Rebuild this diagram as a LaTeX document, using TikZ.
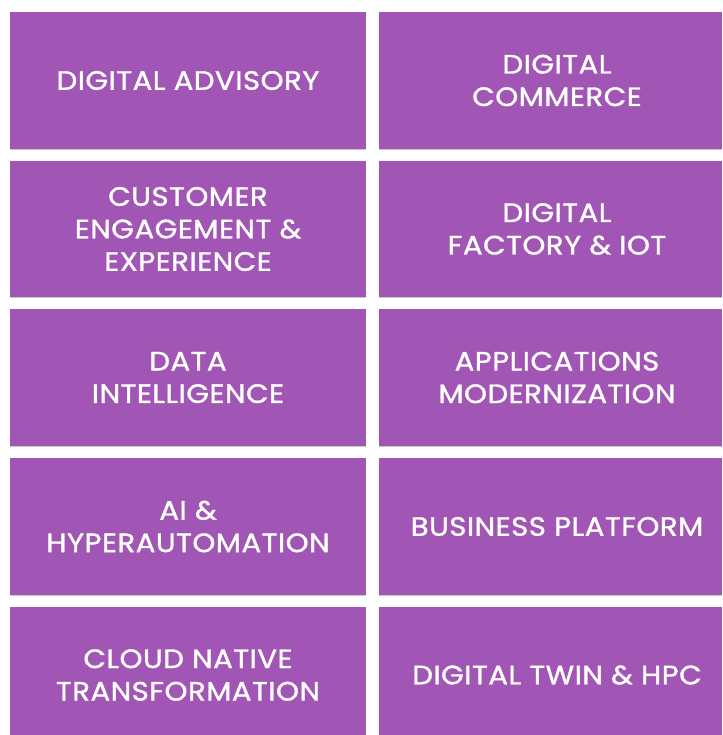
\documentclass[tikz,border=0pt]{standalone}
\usepackage{fontspec}
\setmainfont{Poppins}
\newfontfamily\tilefont{Poppins}[FakeStretch=1.1,FakeBold=1.3,LetterSpace=2]
\definecolor{tilepurple}{RGB}{161,85,180}
\definecolor{tileshadow}{RGB}{200,200,200}
\begin{document}
\begin{tikzpicture}[x=1pt,y=-1pt,
  tile/.style={fill=tilepurple,draw=none,inner sep=0pt,outer sep=0pt},
  label/.style={text=white,align=center,font=\tilefont\fontsize{26.5}{32.5}\selectfont,inner sep=0pt}]
\useasboundingbox (0,0) rectangle (722,735);
\foreach \t/\b [count=\i] in {12/149,161/297,309/446,458/595,607/735}{
  \fill[tileshadow] (10,\b) rectangle (366,\b+1.2);
  \fill[tileshadow] (379,\b) rectangle (722,\b+1.2);
  \path[tile] (10,\t) rectangle (366,\b);
  \path[tile] (379,\t) rectangle (722,\b);
}
\node[label] (t1) at (188,80.5) {DIGITAL ADVISORY};
\node[label] (t2) at (557,80.5) {DIGITAL\\COMMERCE};
\node[label] (t3) at (188,229) {CUSTOMER\\ENGAGEMENT \&\\EXPERIENCE};
\node[label] (t4) at (557,229) {DIGITAL\\FACTORY \& IOT};
\node[label] (t5) at (188,377.5) {DATA\\INTELLIGENCE};
\node[label] (t6) at (557,377.5) {APPLICATIONS\\MODERNIZATION};
\node[label] (t7) at (188,526.5) {AI \&\\HYPERAUTOMATION};
\node[label] (t8) at (557,526.5) {BUSINESS PLATFORM};
\node[label] (t9) at (188,675) {CLOUD NATIVE\\TRANSFORMATION};
\node[label] (t10) at (557,675) {DIGITAL TWIN \& HPC};
\end{tikzpicture}
\end{document}
